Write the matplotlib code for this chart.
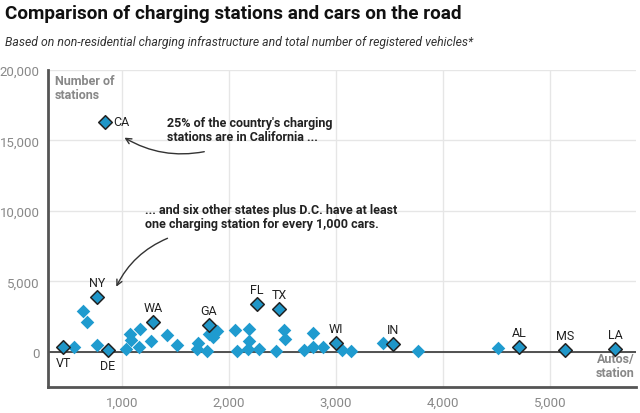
import matplotlib.pyplot as plt

plt.rcParams['font.family'] = ['Roboto', 'DejaVu Sans']

# autos per station (x) and number of stations (y)
other_x = [551, 636, 673, 766, 1037, 1075, 1084, 1168, 1159, 1271, 1421, 1514,
           1710, 1701, 1794, 1813, 1850, 1888, 2056, 2075, 2187, 2187, 2178, 2280,
           2439, 2514, 2523, 2701, 2785, 2785, 2879, 3056, 3140, 3439, 3766, 4514]
other_y = [355, 2900, 2130, 500, 210, 1280, 850, 1630, 355, 780, 1210, 500,
           640, 210, 70, 1280, 1070, 1490, 1560, 30, 1630, 780, 210, 210,
           70, 1560, 920, 140, 1350, 355, 355, 140, 70, 640, 70, 280]

states = ["CA", "NY", "VT", "DE", "WA", "GA", "FL", "TX", "WI", "IN", "AL", "MS", "LA"]
state_x = [841, 766, 449, 869, 1290, 1813, 2262, 2467, 3000, 3533, 4710, 5140, 5607]
state_y = [16310, 3900, 355, 140, 2130, 1915, 3400, 3050, 640, 570, 355, 140, 210]

fig = plt.figure(figsize=(6.4, 4.14), dpi=100)
fig.text(0.008, 0.966, "Comparison of charging stations and cars on the road",
         fontsize=13.6, fontweight='bold', color='#111111', va='center')
fig.text(0.008, 0.898, "Based on non-residential charging infrastructure and total number of registered vehicles*",
         fontsize=8.8, style='italic', color='#333333', va='center')

ax = fig.add_axes([48/640, 1-388/414, 588/640, 317/414])
ax.set_xlim(308, 5804)
ax.set_ylim(-2500, 20000)
ax.set_xticks([1000, 2000, 3000, 4000, 5000])
ax.set_yticks([0, 5000, 10000, 15000, 20000])
ax.xaxis.set_major_formatter(lambda v, p: f"{int(v):,}")
ax.yaxis.set_major_formatter(lambda v, p: f"{int(v):,}")
ax.tick_params(length=0, labelsize=9.5, labelcolor='#888888', pad=6)
ax.grid(True, color='#e6e6e6', linewidth=1)
ax.set_axisbelow(True)
for s in ['top', 'right']:
    ax.spines[s].set_visible(False)
for s in ['left', 'bottom']:
    ax.spines[s].set_color('#555555')
    ax.spines[s].set_linewidth(2)
ax.axhline(0, color='#444444', linewidth=1.3, zorder=1)

ax.scatter(other_x, other_y, marker='D', s=48, color='#1f9bcf', linewidths=0, zorder=3)
ax.scatter(state_x, state_y, marker='D', s=48, color='#1f96c8', edgecolors='#222222',
           linewidths=1.1, zorder=4)

# state labels
offsets = {"CA": (6, 0), "VT": (0, -11.5), "DE": (0, -11)}
for name, x, y in zip(states, state_x, state_y):
    dx, dy = offsets.get(name, (0, 10))
    ha = 'left' if name == "CA" else 'center'
    ax.annotate(name, (x, y), xytext=(dx, dy), textcoords='offset points',
                ha=ha, va='center', fontsize=9, color='#222222')

ax.text(370, 19700, "Number of\nstations", fontsize=9, fontweight='bold',
        color='#888888', va='top', linespacing=1.1)
ax.text(5790, -1000, "Autos/\nstation", fontsize=9, fontweight='bold',
        color='#888888', ha='right', va='center', linespacing=1.1)

ax.text(1420, 15800, "25% of the country's charging\nstations are in California ...",
        fontsize=9, fontweight='bold', color='#222222', va='center', linespacing=1.1)
ax.annotate("", xy=(1000, 15300), xytext=(1794, 14240),
            arrowprops=dict(arrowstyle='->', color='#333333', lw=1,
                            connectionstyle='arc3,rad=-0.2'))

ax.text(1210, 9620, "... and six other states plus D.C. have at least\none charging station for every 1,000 cars.",
        fontsize=9, fontweight='bold', color='#222222', va='center', linespacing=1.1)
ax.annotate("", xy=(935, 4440), xytext=(1449, 8130),
            arrowprops=dict(arrowstyle='->', color='#333333', lw=1,
                            connectionstyle='arc3,rad=0.2'))

fig.savefig("out.png", dpi=100)
